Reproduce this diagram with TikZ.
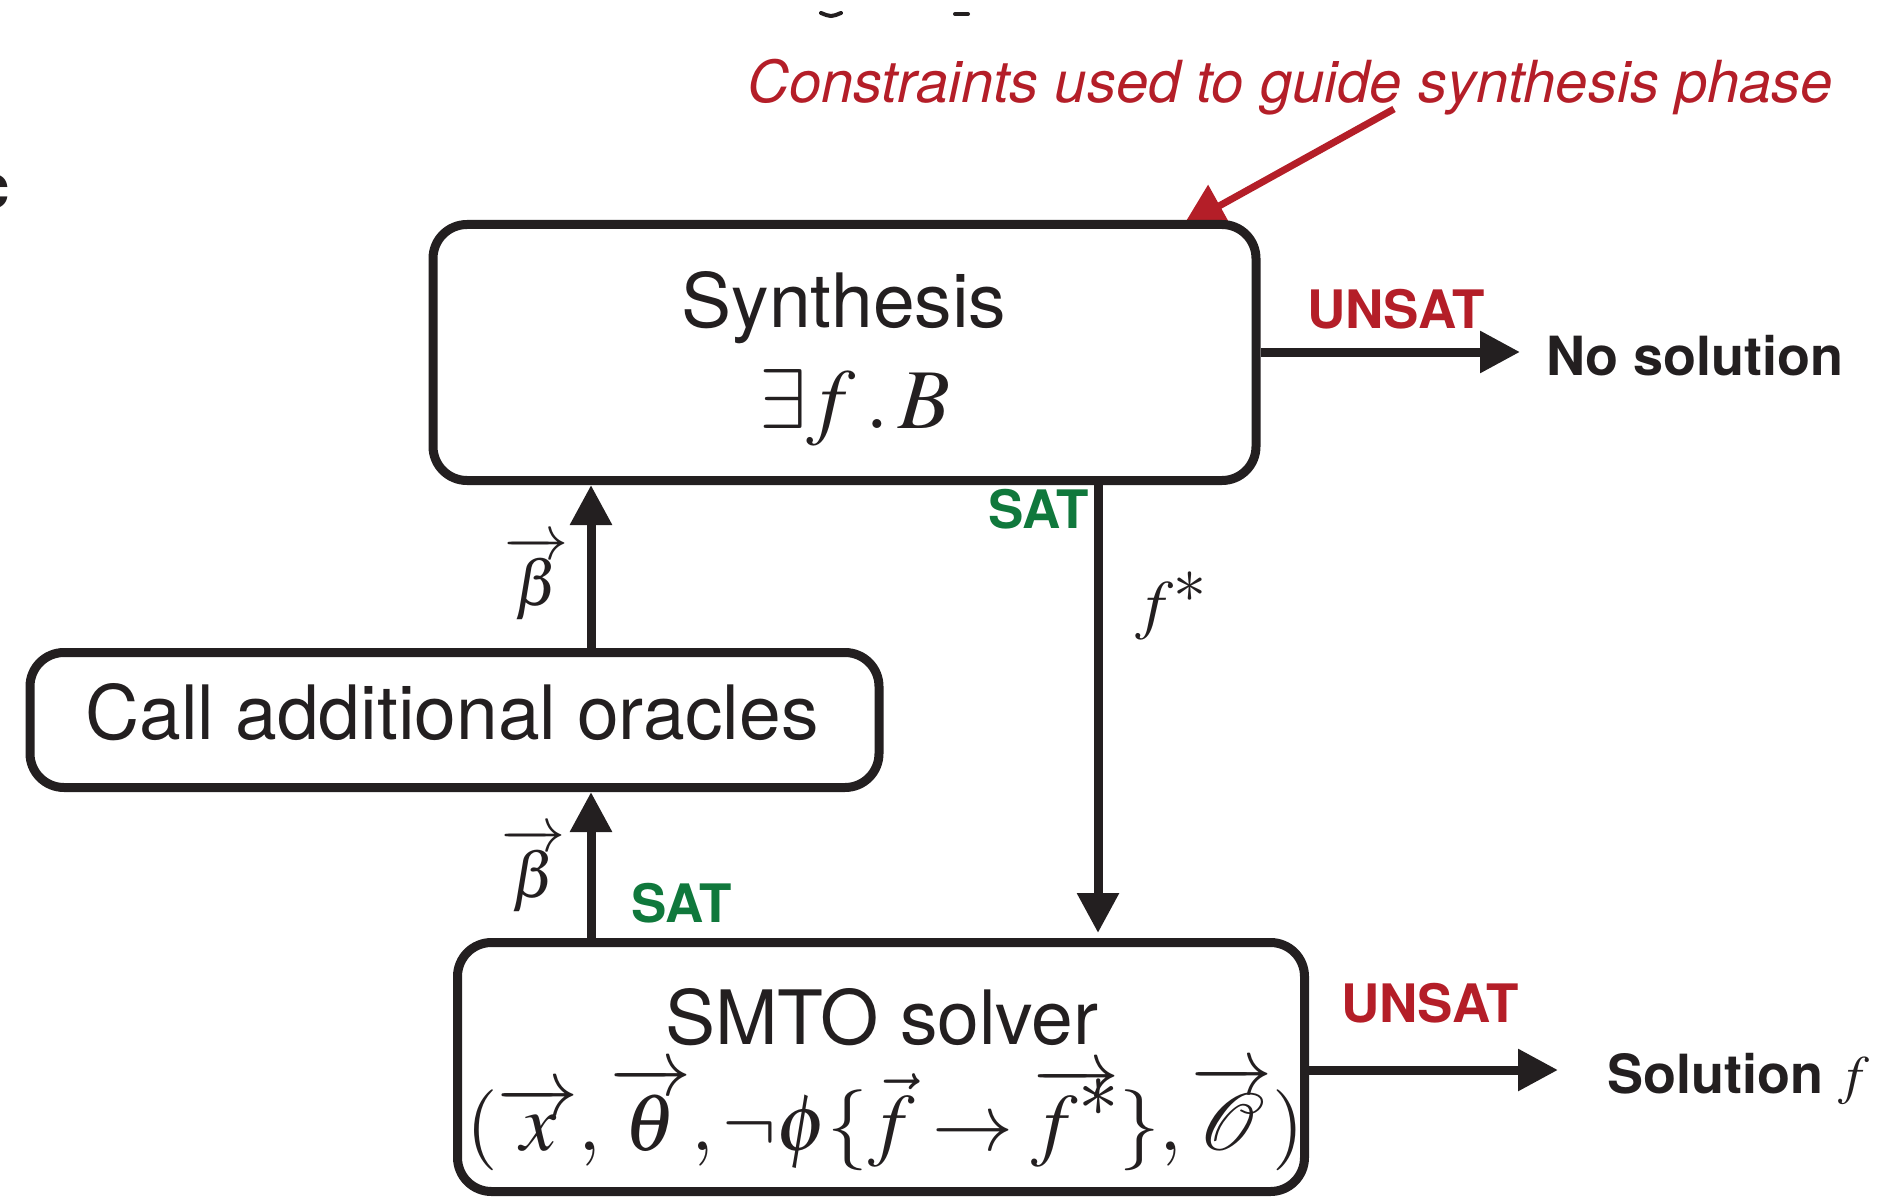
\documentclass[tikz,border=0pt]{standalone}
\usepackage{mathptmx}
\usepackage{fontspec}
\setmainfont{TeX Gyre Heros}
\usetikzlibrary{arrows.meta}
\definecolor{ink}{RGB}{35,31,32}
\definecolor{redc}{RGB}{180,30,40}
\definecolor{greenc}{RGB}{16,120,60}
\tikzset{
  box/.style={draw=ink, line width=9pt, rounded corners=34pt, inner sep=0pt, fill=none},
  conn/.style={draw=ink, line width=9pt, -{Triangle[length=40pt,width=40pt]}},
  txt/.style={inner sep=0pt, text=ink, font=\fontsize{75}{80}\selectfont},
  mth/.style={inner sep=0pt, text=ink, font=\fontsize{85}{90}\selectfont},
  bold/.style={inner sep=0pt, font=\bfseries\fontsize{53}{56}\selectfont},
  redlbl/.style={bold, text=redc},
  greenlbl/.style={bold, text=greenc},
  outlbl/.style={inner sep=0pt, text=ink, font=\bfseries\fontsize{54}{56}\selectfont},
}
\begin{document}
\begin{tikzpicture}[x=1pt,y=-1pt]
\path[use as bounding box] (0,0) rectangle (1895,1198);

% cropped fragments of text outside the figure
\node[anchor=base east, inner sep=0pt, text=ink, font=\bfseries\fontsize{62}{62}\selectfont] (frag) at (10,209) {c};
\draw[ink, line width=4pt, line cap=round] (821,13) .. controls (831,17) .. (841,13);
\draw[ink, line width=4pt, line cap=round] (955,14) -- (968,14);

% red annotation
\node[anchor=base west, inner sep=0pt, text=redc, font=\itshape\fontsize{58}{60}\selectfont] (cons) at (747,103) {Constraints used to guide synthesis phase};
\coordinate (rs) at (1394,109);
\coordinate (rt) at (1183,226);
\draw[redc, line width=7pt, -{Triangle[length=42pt,width=46pt]}] (rs) -- (rt);

% boxes
\node[box, minimum width=823pt, minimum height=256pt] (syn) at (844.5,352.5) {};
\node[box, minimum width=849pt, minimum height=135pt] (orc) at (454.5,720) {};
\node[box, minimum width=847pt, minimum height=249pt] (smto) at (881,1067) {};

% box texts
\node[txt, anchor=base] (synt) at (844,327) {Synthesis};
\node[mth, anchor=base] (synm) at (855,428) {$\exists f\mkern2mu.\mkern2mu B$};
\node[txt, anchor=base] (orct) at (452,739) {Call additional oracles};
\node[txt, anchor=base] (smtot) at (882,1044) {SMTO solver};
\node[mth, anchor=base, font=\fontsize{81}{86}\selectfont] (smtom) at (885,1150) {$(\overrightarrow{x}, \overrightarrow{\theta}, \neg\phi\{\vec{f}\rightarrow\overrightarrow{f^{\smash{\textstyle *}}}\}, \overrightarrow{\mathcal{O}})$};

% connector coordinates
\coordinate (fx) at (1098,0);
\coordinate (bx) at (591,0);
\coordinate (u1) at (1520,352);
\coordinate (u2) at (1558,1070);

% connectors
\draw[conn] (syn.south -| fx) -- ([yshift=5pt]smto.north -| fx);
\draw[conn] (orc.north -| bx) -- (syn.south -| bx);
\draw[conn] (smto.north -| bx) -- (orc.south -| bx);
\draw[conn] (syn.east |- u1) -- (u1);
\draw[conn] (smto.east |- u2) -- (u2);

% labels
\node[mth, anchor=center, font=\fontsize{66}{70}\selectfont] (fstar) at (1171,606) {$f^{\textstyle *}$};
\node[mth, anchor=center, font=\fontsize{64}{66}\selectfont] (beta1) at (537,578) {$\overrightarrow{\beta}$};
\node[mth, anchor=center, font=\fontsize{64}{66}\selectfont] (beta2) at (534,870) {$\overrightarrow{\beta}$};
\node[greenlbl, anchor=base east] (sat1) at (1089,528) {SAT};
\node[greenlbl, anchor=base west] (sat2) at (631,922) {SAT};
\node[redlbl, anchor=base west] (unsat1) at (1307,328) {UNSAT};
\node[redlbl, anchor=base west] (unsat2) at (1341,1022) {UNSAT};
\node[outlbl, anchor=base west] (nosol) at (1546,375) {No solution};
\node[outlbl, anchor=base west] (sol) at (1607,1093) {Solution $f$};
\end{tikzpicture}
\end{document}
